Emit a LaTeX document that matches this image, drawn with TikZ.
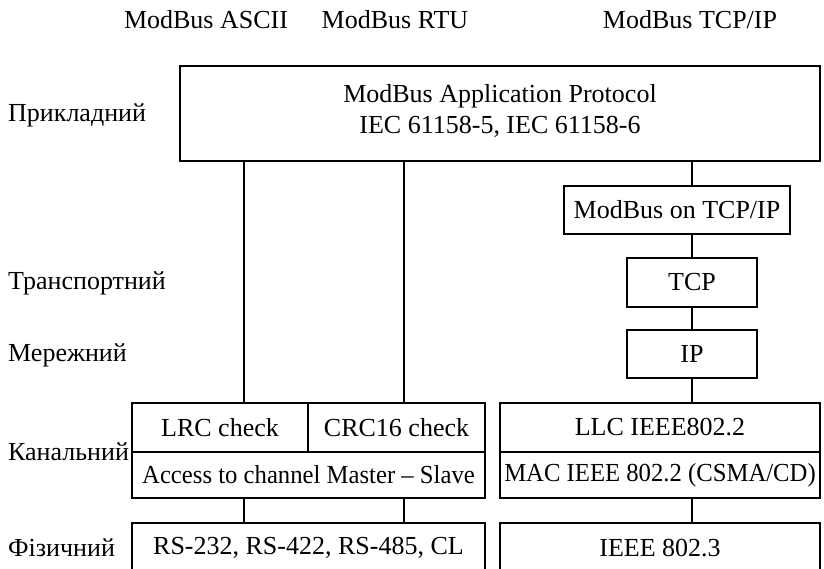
\documentclass[tikz,border=0pt]{standalone}
\usepackage{fontspec}
\setmainfont{Liberation Serif}
\newcommand{\narrowtext}[1]{\scalebox{0.95}[1]{#1}}
\begin{document}
\begin{tikzpicture}[x=1pt,y=-1pt,
  every node/.style={font=\fontsize{26}{31}\selectfont, inner sep=0pt},
  layerbox/.style={draw, line width=1.2pt, align=center},
  layerlabel/.style={anchor=west},
  conn/.style={line width=1.2pt}]
\useasboundingbox (0,0) rectangle (824,568);
\clip (0,0) rectangle (824,568);
% top protocol names
\node (hascii) at (206,20) {ModBus ASCII};
\node (hrtu)   at (395,20) {ModBus RTU};
\node (htcp)   at (690,20) {ModBus TCP/IP};
% layer names
\node[layerlabel] (lapp)  at (8,115) {Прикладний};
\node[layerlabel] (ltr)   at (8,283) {Транспортний};
\node[layerlabel] (lnet)  at (8,355) {Мережний};
\node[layerlabel] (llink) at (8,452) {Канальний};
\node[layerlabel] (lphy)  at (8,548) {Фізичний};
% boxes
\node[layerbox, minimum width=640pt, minimum height=95pt] (app) at (500,113.5)
  {\raisebox{9pt}{\shortstack{ModBus Application Protocol\\[5pt]IEC 61158-5, IEC 61158-6}}};
\node[layerbox, minimum width=226pt, minimum height=48pt] (mtcp) at (677,210) {ModBus on TCP/IP};
\node[layerbox, minimum width=130pt, minimum height=49pt] (tcp) at (692,282.5) {TCP};
\node[layerbox, minimum width=130pt, minimum height=48pt] (ip) at (692,354) {IP};
\node[layerbox, minimum width=176pt, minimum height=49pt] (lrc) at (220,427.5) {LRC check};
\node[layerbox, minimum width=177pt, minimum height=49pt] (crc) at (396.5,427.5) {CRC16 check};
\node[layerbox, minimum width=353pt, minimum height=46pt] (acc) at (308.5,475) {\narrowtext{Access to channel Master -- Slave}};
\node[layerbox, minimum width=320pt, minimum height=49pt] (llc) at (660,427.5) {LLC IEEE802.2};
\node[layerbox, minimum width=320pt, minimum height=46pt] (mac) at (660,475) {\narrowtext{MAC IEEE 802.2 (CSMA/CD)}};
\node[layerbox, minimum width=353pt, minimum height=50pt] (rs) at (308.5,548) {RS-232, RS-422, RS-485, CL};
\node[layerbox, minimum width=320pt, minimum height=50pt] (ieee) at (660,548) {IEEE 802.3};
% connector columns
\coordinate (c1) at (244,0);
\coordinate (c2) at (404,0);
\coordinate (c3) at (692,0);
\draw[conn] (app.south -| c1) -- (lrc.north -| c1);
\draw[conn] (app.south -| c2) -- (crc.north -| c2);
\draw[conn] (acc.south -| c1) -- (rs.north -| c1);
\draw[conn] (acc.south -| c2) -- (rs.north -| c2);
\draw[conn] (app.south -| c3) -- (mtcp.north -| c3);
\draw[conn] (mtcp.south -| c3) -- (tcp.north);
\draw[conn] (tcp.south) -- (ip.north);
\draw[conn] (ip.south) -- (llc.north -| c3);
\draw[conn] (mac.south -| c3) -- (ieee.north -| c3);
\end{tikzpicture}
\end{document}
